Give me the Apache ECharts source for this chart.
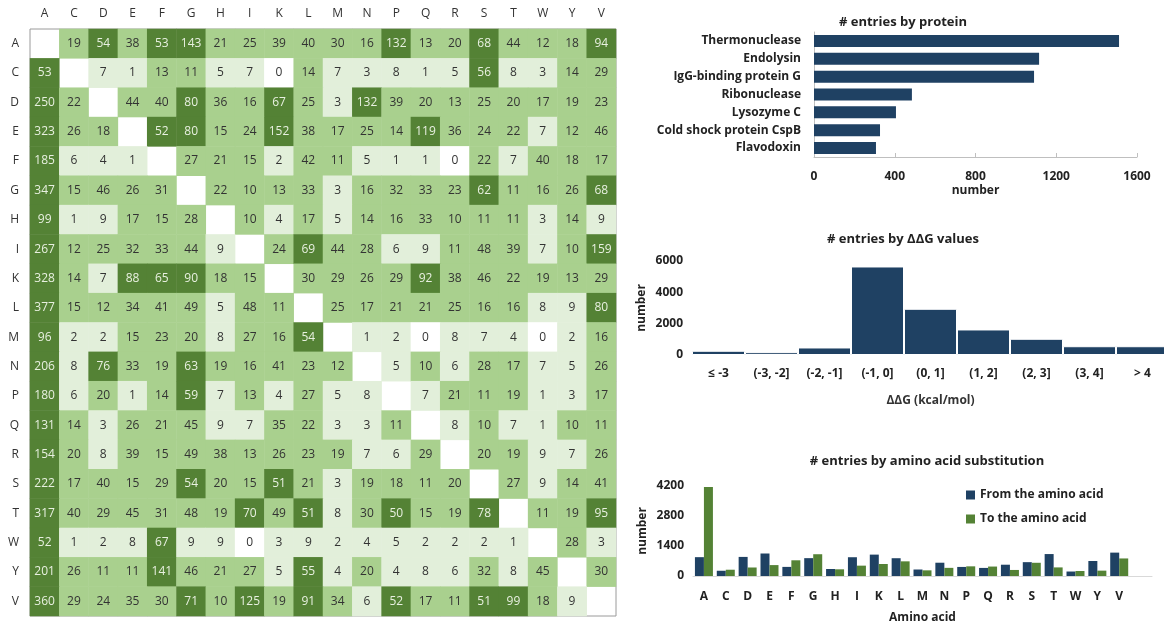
<!DOCTYPE html>
<html>
<head>
    <meta charset="utf-8">
    <title>Substitution overview</title>
    <style>
        body { margin: 0; padding: 0; background: #fff; }
        #main { width: 1164px; height: 622px; }
    </style>
</head>
<body>
    <div id="main"></div>
    <script src="https://cdn.jsdelivr.net/npm/echarts@6/dist/echarts.min.js"></script>
    <script>
        // amino acids, in the order of the matrix (rows = from, columns = to)
        var aminoAcids = ['A', 'C', 'D', 'E', 'F', 'G', 'H', 'I', 'K', 'L', 'M', 'N', 'P', 'Q', 'R', 'S', 'T', 'W', 'Y', 'V'];

        var substitutionCounts = [
            [null, 19, 54, 38, 53, 143, 21, 25, 39, 40, 30, 16, 132, 13, 20, 68, 44, 12, 18, 94],
            [53, null, 7, 1, 13, 11, 5, 7, 0, 14, 7, 3, 8, 1, 5, 56, 8, 3, 14, 29],
            [250, 22, null, 44, 40, 80, 36, 16, 67, 25, 3, 132, 39, 20, 13, 25, 20, 17, 19, 23],
            [323, 26, 18, null, 52, 80, 15, 24, 152, 38, 17, 25, 14, 119, 36, 24, 22, 7, 12, 46],
            [185, 6, 4, 1, null, 27, 21, 15, 2, 42, 11, 5, 1, 1, 0, 22, 7, 40, 18, 17],
            [347, 15, 46, 26, 31, null, 22, 10, 13, 33, 3, 16, 32, 33, 23, 62, 11, 16, 26, 68],
            [99, 1, 9, 17, 15, 28, null, 10, 4, 17, 5, 14, 16, 33, 10, 11, 11, 3, 14, 9],
            [267, 12, 25, 32, 33, 44, 9, null, 24, 69, 44, 28, 6, 9, 11, 48, 39, 7, 10, 159],
            [328, 14, 7, 88, 65, 90, 18, 15, null, 30, 29, 26, 29, 92, 38, 46, 22, 19, 13, 29],
            [377, 15, 12, 34, 41, 49, 5, 48, 11, null, 25, 17, 21, 21, 25, 16, 16, 8, 9, 80],
            [96, 2, 2, 15, 23, 20, 8, 27, 16, 54, null, 1, 2, 0, 8, 7, 4, 0, 2, 16],
            [206, 8, 76, 33, 19, 63, 19, 16, 41, 23, 12, null, 5, 10, 6, 28, 17, 7, 5, 26],
            [180, 6, 20, 1, 14, 59, 7, 13, 4, 27, 5, 8, null, 7, 21, 11, 19, 1, 3, 17],
            [131, 14, 3, 26, 21, 45, 9, 7, 35, 22, 3, 3, 11, null, 8, 10, 7, 1, 10, 11],
            [154, 20, 8, 39, 15, 49, 38, 13, 26, 23, 19, 7, 6, 29, null, 20, 19, 9, 7, 26],
            [222, 17, 40, 15, 29, 54, 20, 15, 51, 21, 3, 19, 18, 11, 20, null, 27, 9, 14, 41],
            [317, 40, 29, 45, 31, 48, 19, 70, 49, 51, 8, 30, 50, 15, 19, 78, null, 11, 19, 95],
            [52, 1, 2, 8, 67, 9, 9, 0, 3, 9, 2, 4, 5, 2, 2, 2, 1, null, 28, 3],
            [201, 26, 11, 11, 141, 46, 21, 27, 5, 55, 4, 20, 4, 8, 6, 32, 8, 45, null, 30],
            [360, 29, 24, 35, 30, 71, 10, 125, 19, 91, 34, 6, 52, 17, 11, 51, 99, 18, 9, null]
        ];

        var proteins = ['Thermonuclease', 'Endolysin', 'IgG-binding protein G', 'Ribonuclease', 'Lysozyme C', 'Cold shock protein CspB', 'Flavodoxin'];
        var proteinCounts = [1511, 1115, 1090, 485, 406, 327, 307];

        var ddgBins = ['≤ -3', '(-3, -2]', '(-2, -1]', '(-1, 0]', '(0, 1]', '(1, 2]', '(2, 3]', '(3, 4]', '> 4'];
        var ddgCounts = [270, 180, 480, 5650, 2950, 1630, 1035, 560, 560];

        var fromCounts = [879, 245, 891, 1050, 425, 833, 326, 876, 998, 830, 303, 620, 423, 377, 527, 646, 1024, 209, 701, 1091];
        var toCounts = [4148, 293, 397, 509, 733, 1016, 312, 483, 561, 684, 264, 380, 451, 441, 282, 617, 401, 233, 250, 819];

        var navy = '#1f4163';
        var green = '#548235';
        var fontFam = '"Open Sans", "Noto Sans", sans-serif';

        var cells = [];
        for (var i = 0; i < substitutionCounts.length; i++) {
            for (var j = 0; j < substitutionCounts[i].length; j++) {
                var v = substitutionCounts[i][j];
                if (v === null) continue;
                cells.push({
                    value: [j, i, v],
                    label: { color: v >= 50 ? '#e8f0e0' : '#333' }
                });
            }
        }

        var plain = function (v) { return String(v); };
        var boldLabel = { fontFamily: fontFam, fontWeight: 'bold', fontSize: 12, color: '#222' };
        var titleStyle = { fontFamily: fontFam, fontWeight: 'bold', fontSize: 13, color: '#222' };

        var chart = echarts.init(document.getElementById('main'));

        var option = {
            animation: false,
            textStyle: { fontFamily: fontFam },
            title: [
                { text: '# entries by protein', left: 898, top: 11, textAlign: 'center', textStyle: titleStyle },
                { text: '# entries by ΔΔG values', left: 898, top: 228, textAlign: 'center', textStyle: titleStyle },
                { text: '# entries by amino acid substitution', left: 922, top: 450, textAlign: 'center', textStyle: titleStyle }
            ],
            grid: [
                { left: 30, top: 29, width: 586, height: 587, outerBoundsMode: 'none', show: true, borderColor: '#9a9a9a', borderWidth: 1, backgroundColor: '#fff' },
                { left: 814, top: 32, width: 323, height: 125, outerBoundsMode: 'none' },
                { left: 692, top: 261, width: 477, height: 94, outerBoundsMode: 'none' },
                { left: 693, top: 486, width: 459, height: 90, outerBoundsMode: 'none' }
            ],
            visualMap: {
                show: false,
                seriesIndex: 0,
                dimension: 2,
                type: 'piecewise',
                pieces: [
                    { gte: 0, lt: 1, color: '#ffffff' },
                    { gte: 1, lt: 10, color: '#e2efda' },
                    { gte: 10, lt: 50, color: '#a9d08e' },
                    { gte: 50, color: green }
                ]
            },
            legend: {
                data: ['From the amino acid', 'To the amino acid'],
                orient: 'vertical',
                left: 961,
                top: 484,
                itemGap: 12,
                itemWidth: 9,
                itemHeight: 9,
                icon: 'rect',
                textStyle: boldLabel
            },
            xAxis: [
                {
                    gridIndex: 0, type: 'category', data: aminoAcids, position: 'top',
                    axisLine: { show: false }, axisTick: { show: false }, splitLine: { show: false },
                    axisLabel: { margin: 9, fontSize: 12, color: '#333', fontFamily: fontFam }
                },
                {
                    gridIndex: 1, type: 'value', min: 0, max: 1600, interval: 400,
                    name: 'number', nameLocation: 'middle', nameGap: 28, nameTextStyle: boldLabel,
                    axisLine: { show: true, lineStyle: { color: '#bfbfbf' } },
                    axisTick: { show: true, inside: true, length: 4, lineStyle: { color: '#bfbfbf' } },
                    splitLine: { show: false },
                    axisLabel: Object.assign({ margin: 14, formatter: plain }, boldLabel)
                },
                {
                    gridIndex: 2, type: 'category', data: ddgBins,
                    name: 'ΔΔG (kcal/mol)', nameLocation: 'middle', nameGap: 40,
                    nameTextStyle: { fontFamily: fontFam, fontSize: 12, fontWeight: 'bold', color: '#333' },
                    axisLine: { show: false }, axisTick: { show: false },
                    axisLabel: Object.assign({ margin: 13 }, boldLabel)
                },
                {
                    gridIndex: 3, type: 'category', data: aminoAcids.concat(['']),
                    name: 'Amino acid', nameLocation: 'middle', nameGap: 36, nameTextStyle: boldLabel,
                    axisLine: { show: true, lineStyle: { color: '#d9d9d9' } }, axisTick: { show: false },
                    axisLabel: Object.assign({ margin: 15, interval: 0 }, boldLabel)
                }
            ],
            yAxis: [
                {
                    gridIndex: 0, type: 'category', data: aminoAcids, inverse: true,
                    axisLine: { show: false }, axisTick: { show: false }, splitLine: { show: false },
                    axisLabel: { margin: 11, fontSize: 12, color: '#333', fontFamily: fontFam }
                },
                {
                    gridIndex: 1, type: 'category', data: proteins, inverse: true,
                    axisLine: { show: true, lineStyle: { color: '#bfbfbf' } }, axisTick: { show: false },
                    axisLabel: Object.assign({ margin: 13 }, boldLabel)
                },
                {
                    gridIndex: 2, type: 'value', min: 0, max: 6000, interval: 2000,
                    name: 'number', nameLocation: 'middle', nameGap: 44, nameTextStyle: boldLabel,
                    axisLine: { show: false }, axisTick: { show: false }, splitLine: { show: false },
                    axisLabel: Object.assign({ margin: 9, formatter: plain }, boldLabel)
                },
                {
                    gridIndex: 3, type: 'value', min: 0, max: 4200, interval: 1400,
                    name: 'number', nameLocation: 'middle', nameGap: 44, nameTextStyle: boldLabel,
                    axisLine: { show: false }, axisTick: { show: false }, splitLine: { show: false },
                    axisLabel: Object.assign({ margin: 9, formatter: plain }, boldLabel)
                }
            ],
            series: [
                {
                    type: 'heatmap', xAxisIndex: 0, yAxisIndex: 0, data: cells,
                    label: { show: true, fontSize: 12, fontFamily: fontFam },
                    itemStyle: { borderWidth: 0 }
                },
                {
                    type: 'bar', xAxisIndex: 1, yAxisIndex: 1, data: proteinCounts,
                    barWidth: 12, itemStyle: { color: navy }
                },
                {
                    type: 'bar', xAxisIndex: 2, yAxisIndex: 2, data: ddgCounts,
                    barCategoryGap: 0, itemStyle: { color: navy, borderColor: '#fff', borderWidth: 1 }
                },
                {
                    name: 'From the amino acid', type: 'bar', xAxisIndex: 3, yAxisIndex: 3, data: fromCounts,
                    barWidth: 9, barGap: 0, itemStyle: { color: navy }
                },
                {
                    name: 'To the amino acid', type: 'bar', xAxisIndex: 3, yAxisIndex: 3, data: toCounts,
                    barWidth: 9, barGap: 0, itemStyle: { color: green }
                }
            ]
        };

        chart.setOption(option);
    </script>
</body>
</html>
